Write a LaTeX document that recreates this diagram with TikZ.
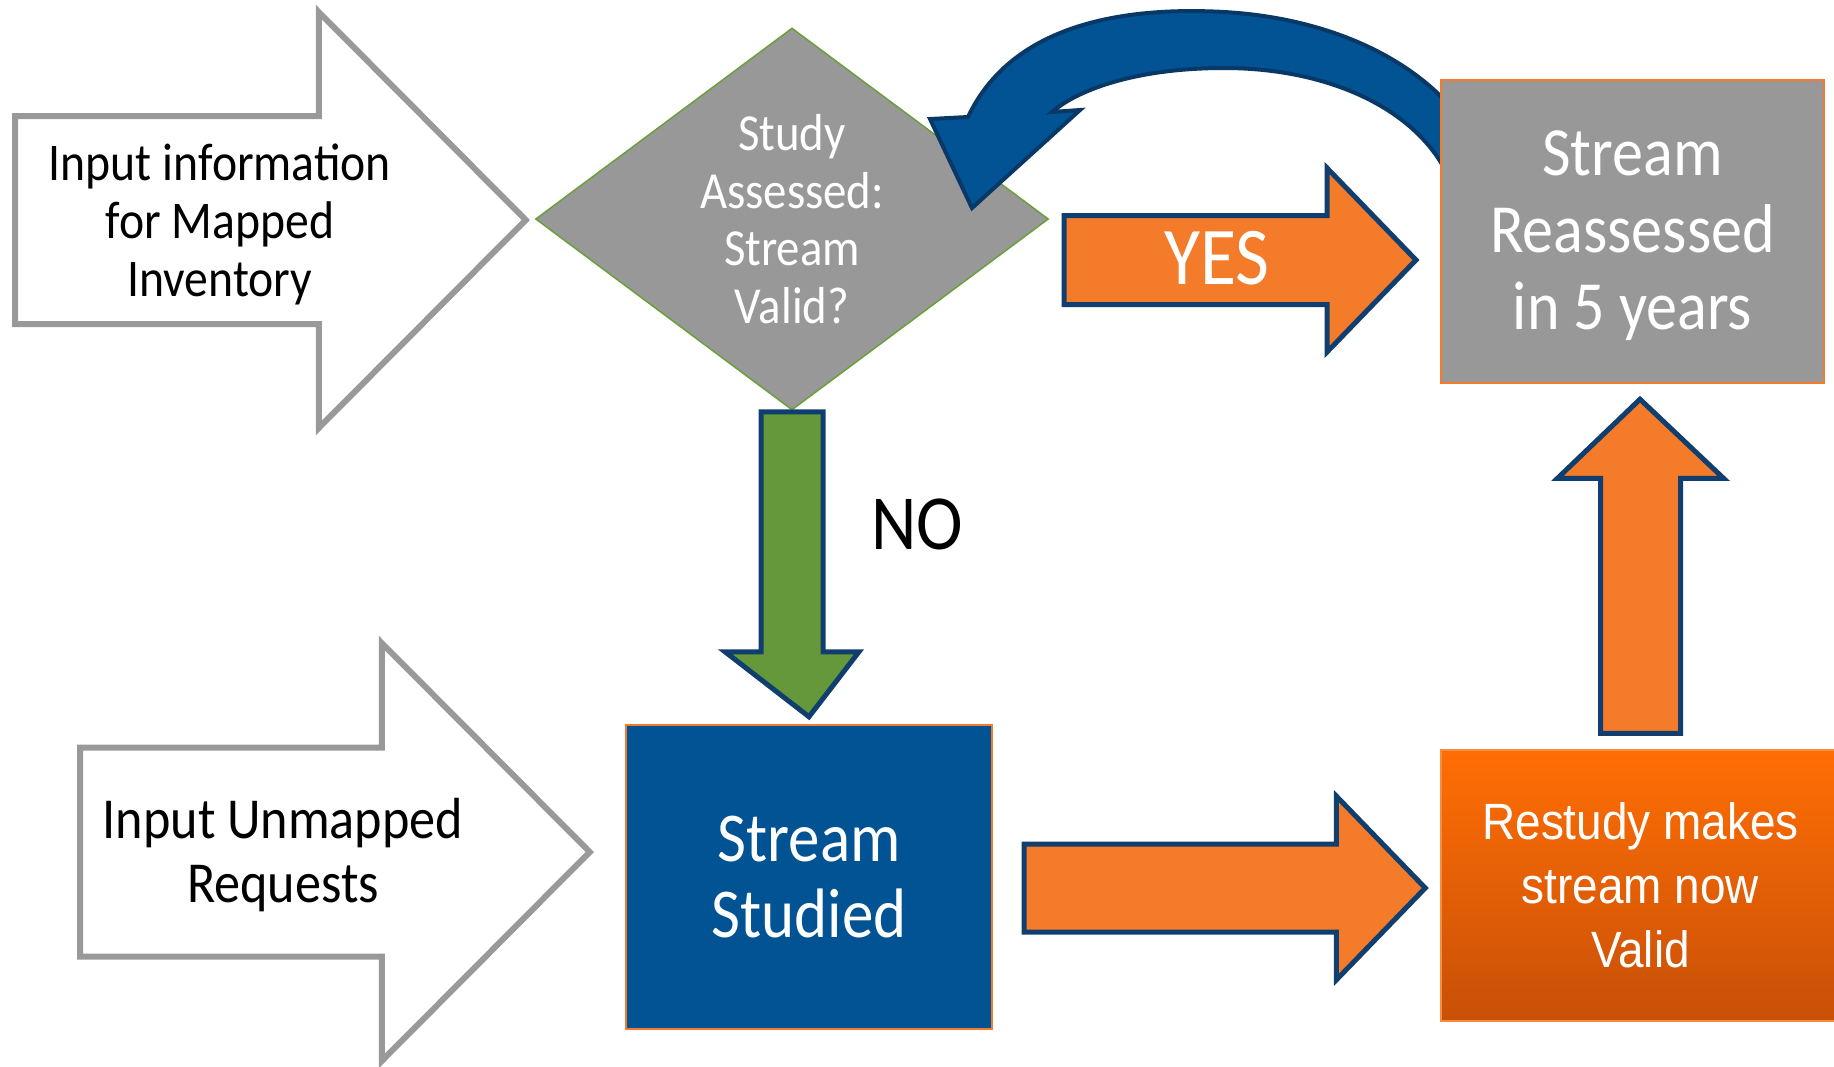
\documentclass[tikz,border=0pt]{standalone}
\usepackage{fontspec}
\setmainfont[FakeStretch=0.9]{Carlito}
\newfontfamily\restudyfont[FakeStretch=0.9]{Liberation Sans}
\usetikzlibrary{shapes.geometric,calc}
\definecolor{inputgray}{RGB}{153,153,153}
\definecolor{shapegray}{RGB}{152,152,152}
\definecolor{diamondgreen}{RGB}{106,160,60}
\definecolor{arrowborder}{RGB}{16,62,110}
\definecolor{curveborder}{RGB}{8,56,102}
\definecolor{blueF}{RGB}{2,83,148}
\definecolor{orangeF}{RGB}{244,123,42}
\definecolor{greenF}{RGB}{101,152,59}
\definecolor{boxorange}{RGB}{244,123,42}
\definecolor{restudytop}{RGB}{255,110,4}
\definecolor{restudybot}{RGB}{200,80,8}
\definecolor{restudyline}{RGB}{247,140,60}

% rightward block arrow: style, from, tip, shaft half, head half, head length
\newcommand{\rightblock}[6]{%
  \path[#1] let \p1=(#2), \p2=(#3) in
    (\x1,\y1+#4) -- (\x2-#6,\y1+#4) -- (\x2-#6,\y1+#5) -- (\x2,\y2)
    -- (\x2-#6,\y1-#5) -- (\x2-#6,\y1-#4) -- (\x1,\y1-#4) -- cycle;}
% vertical block arrow: style, from, tip, shaft half, head half, signed head length
\newcommand{\vertblock}[6]{%
  \path[#1] let \p1=(#2), \p2=(#3) in
    (\x1-#4,\y1) -- (\x1-#4,\y2+#6) -- (\x1-#5,\y2+#6) -- (\x2,\y2)
    -- (\x1+#5,\y2+#6) -- (\x1+#4,\y2+#6) -- (\x1+#4,\y1) -- cycle;}

\begin{document}
\begin{tikzpicture}[x=1pt,y=-1pt,
  inarrow/.style={draw=inputgray, line width=6pt, fill=white, line join=miter},
  blockarrow/.style={draw=arrowborder, line width=5pt, line join=miter},
  decision/.style={diamond, draw=diamondgreen, line width=1.5pt, fill=shapegray,
    minimum width=513pt, minimum height=382pt, inner sep=0pt},
  stepbox/.style={rectangle, draw=boxorange, line width=2.5pt, inner sep=0pt,
    text=white, align=center},
  intext/.style={text=black, align=center, inner sep=0pt},
  wtext/.style={text=white, align=center, inner sep=0pt}]

\fill[white] (0,0) rectangle (1834,1066);
\useasboundingbox (0,0) rectangle (1834,1066);

% decision diamond
\node[decision] (study) at (792,219) {};

% input arrows
\coordinate (mappedtail) at (15,220);
\coordinate (mappedtip) at ($(study.west)+(-9,1)$);
\rightblock{inarrow}{mappedtail}{mappedtip}{104pt}{208pt}{207pt}
\node[intext, font=\fontsize{53}{58}\selectfont] (mapped) at (220,224)
  {Input information\\for Mapped\\Inventory};

% boxes
\node[stepbox, fill=blueF, minimum width=366pt, minimum height=304pt,
  font=\fontsize{70}{76}\selectfont] (studied) at (809,877) {Stream\\Studied};

\coordinate (unmappedtail) at (80,852);
\coordinate (unmappedtip) at ($(studied.west)+(-35,-25)$);
\rightblock{inarrow}{unmappedtail}{unmappedtip}{104.5pt}{209pt}{208pt}
\node[intext, font=\fontsize{58}{64}\selectfont] (unmapped) at (283,855)
  {Input Unmapped\\Requests};

% curved feedback arrow (behind the reassessed box)
\path[fill=blueF, draw=curveborder, line width=4pt, line join=miter]
  (968,117) .. controls (1010,28) and (1115,6) .. (1224,12)
  .. controls (1330,18) and (1420,60) .. (1465,125)
  -- (1450,180)
  .. controls (1420,110) and (1330,68) .. (1224,68)
  .. controls (1140,68) and (1080,88) .. (1052,112)
  -- (1080,110) -- (972,208) -- (930,119) -- cycle;

\node[wtext, font=\fontsize{52}{57.5}\selectfont] (studytext) at (study.center)
  {Study\\Assessed:\\Stream\\Valid?};

\node[stepbox, fill=shapegray, minimum width=383pt, minimum height=303pt]
  (reassess) at (1632.5,231.5) {};
\node[wtext, font=\fontsize{69}{77}\selectfont] (reassesstext)
  at ($(reassess.center)+(0,4)$) {Stream\\Reassessed\\in 5 years};

\node[rectangle, draw=restudyline, line width=1.5pt, top color=restudytop,
  bottom color=restudybot, minimum width=399pt, minimum height=271pt,
  inner sep=0pt, text=white, align=center,
  font=\restudyfont\fontsize{51}{64}\selectfont] (restudy) at (1640.5,885.5)
  {Restudy makes\\stream now\\Valid};

% YES arrow
\coordinate (yesfrom) at (1064,260);
\coordinate (yesto) at (1416,260);
\rightblock{blockarrow, fill=orangeF}{yesfrom}{yesto}{44.5pt}{92pt}{89pt}
\node[wtext, font=\fontsize{82}{90}\selectfont] (yes) at (1217,258) {YES};

% NO arrow
\coordinate (nofrom) at ($(study.south)+(0,1)$);
\coordinate (noto) at ($(studied.north)+(0,-7)$);
\vertblock{blockarrow, fill=greenF}{nofrom}{noto}{31pt}{67pt}{65pt}
\node[intext, font=\fontsize{78}{86}\selectfont] (no) at (917,524) {NO};

% studied -> restudy
\coordinate (restfrom) at (1024,888);
\coordinate (restto) at ($(restudy.west)+(-15,2.5)$);
\rightblock{blockarrow, fill=orangeF}{restfrom}{restto}{44pt}{92pt}{89pt}

% restudy -> reassessed
\coordinate (upfrom) at ($(restudy.north)+(0,-16)$);
\coordinate (upto) at ($(reassess.south)+(7.5,15)$);
\vertblock{blockarrow, fill=orangeF}{upfrom}{upto}{40pt}{83pt}{-79pt}

\end{tikzpicture}
\end{document}
